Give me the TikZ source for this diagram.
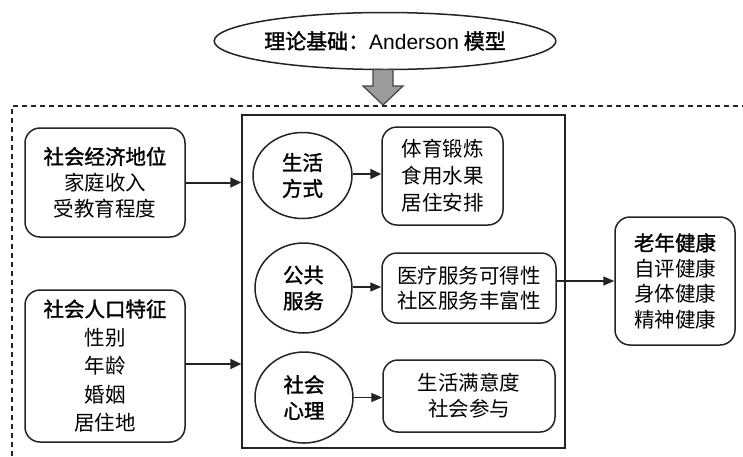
\documentclass[tikz,border=0pt]{standalone}
\usepackage{fontspec}
\setmainfont{Noto Sans CJK SC}
\newfontfamily\hei[FakeBold=1.4]{Noto Sans CJK SC}
\newfontfamily\latinsans{Liberation Sans}
\usetikzlibrary{shapes.geometric,arrows.meta}
\definecolor{arrowgray}{RGB}{155,155,155}
\definecolor{ink}{RGB}{35,35,35}
\begin{document}
\begin{tikzpicture}[x=1pt,y=-1pt,
  line/.style={draw=ink, line width=1.5pt},
  rbox/.style={line, rounded corners=15pt, align=center, inner sep=0pt, font=\fontsize{20.5}{26}\selectfont},
  oval/.style={line, ellipse, align=center, inner sep=0pt, font=\hei\fontsize{20.5}{26}\selectfont},
  arr/.style={draw=ink, line width=1.4pt, -{Triangle[length=11pt,width=9pt]}},
  tarr/.style={draw=ink, line width=2pt, -{Triangle[length=11pt,width=10pt]}}
]
\useasboundingbox (0,0) rectangle (743,456);

% theory ellipse
\node[oval, minimum width=338pt, minimum height=57pt, font=\hei\fontsize{21}{26}\selectfont] (theory) at (385,41)
  {理论基础：{\latinsans Anderson} 模型};

% gray block arrow
\draw[fill=arrowgray, draw=ink!85, line width=1.2pt]
  (373,69.5) -- (393,69.5) -- (393,86) -- (403,86) -- (383,105) -- (363,86) -- (373,86) -- cycle;

% dashed frame
\draw[draw=ink, line width=1.1pt, dash pattern=on 5pt off 4pt] (12,456) -- (12,106) -- (743,106);

% middle rectangle
\node[line, rectangle, minimum width=323pt, minimum height=333pt, inner sep=0pt] (mid) at (403.5,281.5) {};

% left boxes
\node[rbox, minimum width=160pt, minimum height=109pt] (ses) at (105,182.5)
  {{\hei 社会经济地位}\\家庭收入\\受教育程度};
\node[rbox, minimum width=160pt, minimum height=152pt, font=\fontsize{20.5}{28.5}\selectfont] (demo) at (105,366)
  {{\hei 社会人口特征}\\性别\\年龄\\婚姻\\居住地};

% circles
\node[oval, minimum width=99pt, minimum height=86pt] (c1) at (302.5,175.5) {生活\\方式};
\node[oval, minimum width=97pt, minimum height=90pt] (c2) at (303.5,288) {公共\\服务};
\node[oval, minimum width=98pt, minimum height=91pt] (c3) at (304,397.5) {社会\\心理};

% inner boxes
\node[rbox, minimum width=121pt, minimum height=98pt, font=\fontsize{20.5}{27}\selectfont] (bA) at (442.5,176) {体育锻炼\\食用水果\\居住安排};
\node[rbox, minimum width=174pt, minimum height=70pt, font=\fontsize{20.5}{25}\selectfont] (bB) at (469,288) {医疗服务可得性\\社区服务丰富性};
\node[rbox, minimum width=172pt, minimum height=72pt] (bC) at (469,396) {生活满意度\\社会参与};

% outcome box
\node[rbox, minimum width=120pt, minimum height=128pt, font=\fontsize{20.5}{25.5}\selectfont] (health) at (675,281)
  {{\hei 老年健康}\\自评健康\\身体健康\\精神健康};

% connectors
\draw[tarr] (ses.east) -- (ses.east -| mid.west);
\draw[tarr] ([yshift=2pt]demo.east) -- ([yshift=2pt]demo.east -| mid.west);
\draw[tarr] ([yshift=1.5pt]c1.east) -- ([yshift=1.5pt]c1.east -| bA.west);
\draw[arr] ([yshift=1pt]c2.east) -- ([yshift=1pt]c2.east -| bB.west);
\draw[arr] (c3.east) -- (c3.east -| bC.west);
\draw[arr] (bB.east |- health.west) -- (health.west);
\end{tikzpicture}
\end{document}
